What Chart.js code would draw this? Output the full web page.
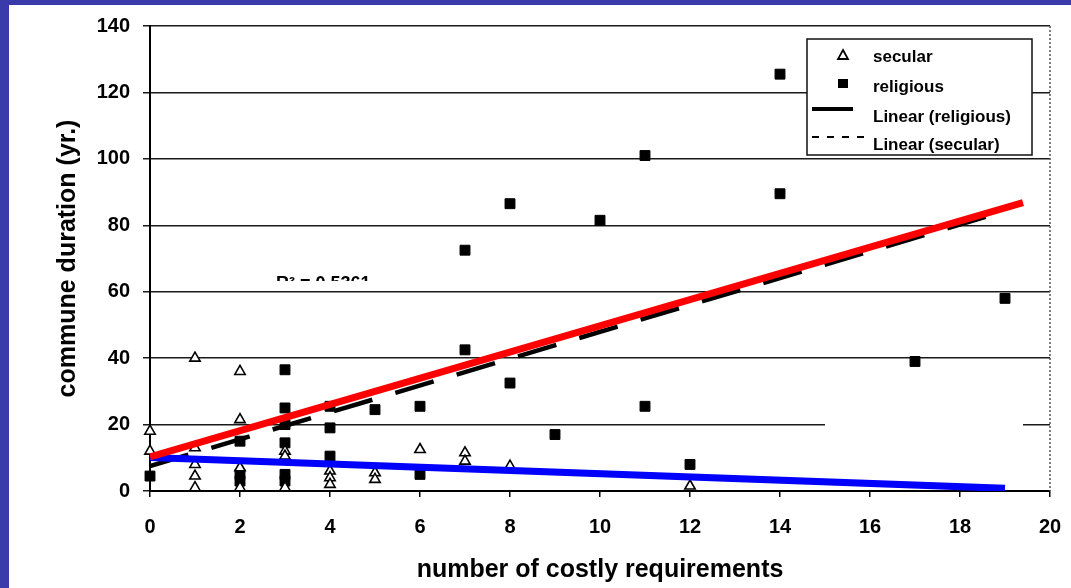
<!DOCTYPE html>
<html>
<head>
<meta charset="utf-8">
<script src="https://cdn.jsdelivr.net/npm/chart.js@4.4.1/dist/chart.umd.min.js"></script>
<style>
  html, body { margin: 0; padding: 0; background: #3a3aab; overflow: hidden; }
  #wrap { position: absolute; left: 0; top: 0; width: 1071px; height: 588px; }
</style>
</head>
<body>
<div id="wrap"><canvas id="chart"></canvas></div>
<script>
// Axis ticks
const xTickValues = [0, 2, 4, 6, 8, 10, 12, 14, 16, 18, 20];
const yTickValues = [0, 20, 40, 60, 80, 100, 120, 140];

// Secular communes: number of costly requirements vs. duration (years)
const secularX = [0, 0, 1, 1, 1, 1, 1, 2, 2, 2, 2, 3, 3, 3, 4, 4, 4, 5, 5, 6, 7, 7, 8, 12];
const secularY = [18, 12, 40, 13, 8, 4.5, 1, 36, 21.5, 7, 1, 12, 10.5, 1, 6, 4, 2, 5.5, 3.5, 12.5, 11.5, 9, 7.5, 1.5];

// Religious communes
const religiousX = [0, 2, 2, 2, 3, 3, 3, 3, 3, 3, 4, 4, 4, 5, 6, 6, 7, 7, 8, 8, 9, 10, 11, 11, 12, 14, 14, 17, 19];
const religiousY = [4.5, 15, 5, 3, 36.5, 25, 20, 14.5, 5, 3, 25.5, 19, 10.5, 24.5, 25.5, 5, 72.5, 42.5, 86.5, 32.5, 17, 81.5, 101, 25.5, 8, 125.5, 89.5, 39, 58];

// Trend lines
const printedFitX = [0, 19];
const printedFitY = [7.5, 84.3];
const religiousTrendX = [0, 19.4];
const religiousTrendY = [10.3, 86.8];
const secularTrendX = [0, 19];
const secularTrendY = [10.1, 0.8];

// Legend entries
const legendLabels = ['secular', 'religious', 'Linear (religious)', 'Linear (secular)'];

// Fit annotation
const fitNote = 'R\u00b2 = 0.5361';

const pts = (xs, ys) => xs.map((x, i) => ({ x: x, y: ys[i] }));
const FONT = "'Liberation Sans', Arial, sans-serif";

const panelPlugin = {
  id: 'panel',
  beforeDraw(chart) {
    const ctx = chart.ctx;
    ctx.save();
    ctx.fillStyle = '#ffffff';
    ctx.fillRect(9, 5, chart.width - 9, chart.height - 5);
    ctx.restore();
  },
  beforeDatasetsDraw(chart) {
    const ctx = chart.ctx;
    const xs = chart.scales.x, ys = chart.scales.y;
    ctx.save();
    // gap in the 20-year gridline
    const gy = ys.getPixelForValue(20);
    ctx.fillStyle = '#ffffff';
    ctx.fillRect(xs.getPixelForValue(15), gy - 2, xs.getPixelForValue(19.4) - xs.getPixelForValue(15), 4);
    // dotted right frame
    ctx.strokeStyle = '#555';
    ctx.lineWidth = 1.5;
    ctx.setLineDash([2, 2]);
    ctx.beginPath();
    ctx.moveTo(xs.right, ys.top);
    ctx.lineTo(xs.right, ys.bottom);
    ctx.stroke();
    ctx.setLineDash([]);
    // partially hidden fit annotation
    ctx.beginPath();
    ctx.rect(260, 272, 140, 9);
    ctx.clip();
    ctx.fillStyle = '#000';
    ctx.font = 'bold 18px ' + FONT;
    ctx.textBaseline = 'alphabetic';
    ctx.fillText(fitNote, 276, 289);
    ctx.restore();
  },
  afterDatasetsDraw(chart) {
    const ctx = chart.ctx;
    ctx.save();
    const bx = 807, by = 39, bw = 225, bh = 116;
    ctx.fillStyle = '#ffffff';
    ctx.fillRect(bx, by, bw, bh);
    ctx.strokeStyle = '#111';
    ctx.lineWidth = 1.5;
    ctx.strokeRect(bx, by, bw, bh);

    // triangle marker
    ctx.fillStyle = '#fff';
    ctx.strokeStyle = '#000';
    ctx.lineWidth = 1.8;
    ctx.beginPath();
    ctx.moveTo(843, 50);
    ctx.lineTo(848, 59);
    ctx.lineTo(838, 59);
    ctx.closePath();
    ctx.fill();
    ctx.stroke();
    // square marker
    ctx.fillStyle = '#000';
    ctx.fillRect(838, 79, 10, 9);
    // solid line
    ctx.lineWidth = 4;
    ctx.beginPath();
    ctx.moveTo(812, 109);
    ctx.lineTo(853, 109);
    ctx.stroke();
    // dashed line
    ctx.lineWidth = 2;
    ctx.setLineDash([7, 8]);
    ctx.beginPath();
    ctx.moveTo(812, 137);
    ctx.lineTo(868, 137);
    ctx.stroke();
    ctx.setLineDash([]);

    ctx.fillStyle = '#000';
    ctx.font = 'bold 17px ' + FONT;
    ctx.textBaseline = 'middle';
    ctx.textAlign = 'left';
    const rows = [57, 87, 117, 145];
    legendLabels.forEach((t, i) => ctx.fillText(t, 873, rows[i]));
    ctx.restore();
  }
};

new Chart(document.getElementById('chart'), {
  type: 'scatter',
  data: {
    datasets: [
      {
        label: 'secular',
        data: pts(secularX, secularY),
        pointStyle: 'triangle',
        pointRadius: 6,
        backgroundColor: '#ffffff',
        borderColor: '#000000',
        borderWidth: 1.6,
        clip: false,
        order: 1
      },
      {
        label: 'religious',
        data: pts(religiousX, religiousY),
        pointStyle: 'rect',
        pointRadius: 7,
        backgroundColor: '#000000',
        borderColor: '#000000',
        borderWidth: 1,
        clip: false,
        order: 1
      },
      {
        label: 'Linear (religious)',
        data: pts(printedFitX, printedFitY),
        showLine: true,
        borderColor: '#000000',
        borderWidth: 4.5,
        borderDash: [40, 24],
        pointRadius: 0,
        order: 2
      },
      {
        label: 'religious trend',
        data: pts(religiousTrendX, religiousTrendY),
        showLine: true,
        borderColor: '#ff0000',
        borderWidth: 7,
        pointRadius: 0,
        order: 0
      },
      {
        label: 'secular trend',
        data: pts(secularTrendX, secularTrendY),
        showLine: true,
        borderColor: '#0000ff',
        borderWidth: 7,
        pointRadius: 0,
        order: 0
      }
    ]
  },
  options: {
    responsive: true,
    maintainAspectRatio: false,
    animation: false,
    events: [],
    layout: { padding: { top: 26, right: 21, left: 0, bottom: 0 } },
    plugins: {
      legend: { display: false },
      tooltip: { enabled: false }
    },
    scales: {
      x: {
        type: 'linear',
        min: 0,
        max: 20,
        afterBuildTicks: (s) => { s.ticks = xTickValues.map(v => ({ value: v })); },
        afterFit: (s) => { s.height = 97; s.paddingLeft = 0; s.paddingRight = 0; },
        border: { display: true, color: '#000', width: 2 },
        grid: { drawOnChartArea: false, drawTicks: true, tickLength: 6, color: '#000', lineWidth: 1.5 },
        ticks: { color: '#000', padding: 18, font: { family: FONT, size: 20, weight: 'bold' } },
        title: {
          display: true,
          text: 'number of costly requirements',
          color: '#000',
          font: { family: FONT, size: 25, weight: 'bold' },
          padding: { top: 0, bottom: 3 }
        }
      },
      y: {
        type: 'linear',
        min: 0,
        max: 140,
        afterBuildTicks: (s) => { s.ticks = yTickValues.map(v => ({ value: v })); },
        afterFit: (s) => { s.width = 150; s.paddingTop = 0; s.paddingBottom = 0; },
        border: { display: true, color: '#000', width: 2 },
        grid: { drawOnChartArea: true, drawTicks: true, tickLength: 7, color: '#1a1a1a', lineWidth: 1.5 },
        ticks: { color: '#000', padding: 13, font: { family: FONT, size: 20, weight: 'bold' } },
        title: {
          display: true,
          text: 'commune duration (yr.)',
          color: '#000',
          font: { family: FONT, size: 25, weight: 'bold' },
          padding: { top: 53, bottom: 0 }
        }
      }
    }
  },
  plugins: [panelPlugin]
});
</script>
</body>
</html>
